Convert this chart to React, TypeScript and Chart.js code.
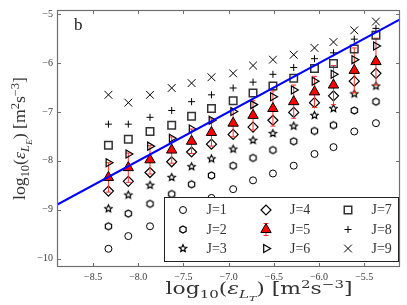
import React, { useEffect, useRef } from 'react';
import { Chart, registerables } from 'chart.js';

Chart.register(...registerables);

// ---------- data ----------
const xValues = [-8.33, -8.11, -7.87, -7.63, -7.41, -7.19, -6.95, -6.73, -6.51, -6.28, -6.05, -5.84, -5.61, -5.37];
const j1 = [-9.80, -9.54, -9.34, -9.10, -8.94, -8.76, -8.58, -8.40, -8.26, -8.10, -7.86, -7.72, -7.40, -7.23];
const j2 = [-9.34, -9.08, -8.88, -8.68, -8.48, -8.30, -8.10, -7.94, -7.78, -7.60, -7.39, -7.27, -6.97, -6.79];
const j3 = [-8.98, -8.70, -8.50, -8.34, -8.12, -7.96, -7.76, -7.58, -7.44, -7.29, -7.07, -6.93, -6.63, -6.47];
const j4 = [-8.62, -8.42, -8.24, -8.02, -7.82, -7.66, -7.46, -7.31, -7.17, -7.01, -6.81, -6.67, -6.37, -6.21];
const j5 = [-8.34, -8.14, -7.98, -7.78, -7.60, -7.42, -7.23, -7.07, -6.93, -6.79, -6.59, -6.45, -6.15, -5.97];
const j5Err = [0.30, 0.30, 0.29, 0.27, 0.25, 0.28, 0.28, 0.30, 0.36, 0.34, 0.32, 0.40, 0.46, 0.48];
const j6 = [-8.04, -7.86, -7.70, -7.54, -7.35, -7.17, -6.99, -6.85, -6.69, -6.55, -6.37, -6.23, -5.93, -5.65];
const j7 = [-7.68, -7.56, -7.40, -7.27, -7.09, -6.93, -6.77, -6.61, -6.47, -6.31, -6.11, -6.01, -5.71, -5.43];
const j8 = [-7.25, -7.25, -7.11, -6.97, -6.79, -6.65, -6.51, -6.39, -6.23, -6.09, -5.91, -5.79, -5.51, -5.29];
const j9 = [-6.65, -6.81, -6.65, -6.51, -6.41, -6.29, -6.21, -6.05, -5.93, -5.83, -5.69, -5.57, -5.33, -5.15];
const refLineX = [-8.9, -5.1]; // reference line y = x
const xTicks = [-8.5, -8.0, -7.5, -7.0, -6.5, -6.0, -5.5];
const yTicks = [-10, -9, -8, -7, -6, -5];
const legendLabels = ['J=1', 'J=2', 'J=3', 'J=4', 'J=5', 'J=6', 'J=7', 'J=8', 'J=9'];
const panelLabel = 'b';

const SERIF = '"Liberation Serif", "DejaVu Serif", serif';
const WIDE_SERIF = '"DejaVu Serif", "Liberation Serif", serif';

// ---------- marker shapes ----------
function hexPath(ctx: CanvasRenderingContext2D, x: number, y: number, r: number) {
  ctx.beginPath();
  for (let k = 0; k < 6; k++) {
    const a = -Math.PI / 2 + (k * Math.PI) / 3;
    const px = x + r * Math.cos(a);
    const py = y + r * Math.sin(a);
    if (k === 0) ctx.moveTo(px, py);
    else ctx.lineTo(px, py);
  }
  ctx.closePath();
}
function starPath(ctx: CanvasRenderingContext2D, x: number, y: number, ro: number, ri: number) {
  ctx.beginPath();
  for (let k = 0; k < 10; k++) {
    const a = -Math.PI / 2 + (k * Math.PI) / 5;
    const r = k % 2 === 0 ? ro : ri;
    const px = x + r * Math.cos(a);
    const py = y + r * Math.sin(a);
    if (k === 0) ctx.moveTo(px, py);
    else ctx.lineTo(px, py);
  }
  ctx.closePath();
}
function makeCanvas(size: number, draw: (c: CanvasRenderingContext2D, m: number) => void) {
  const cv = document.createElement('canvas');
  cv.width = size;
  cv.height = size;
  const c = cv.getContext('2d')!;
  draw(c, size / 2);
  return cv;
}

function drawLegendMarker(ctx: CanvasRenderingContext2D, idx: number, x: number, y: number) {
  ctx.save();
  ctx.strokeStyle = '#000';
  ctx.lineWidth = 1;
  switch (idx) {
    case 0:
      ctx.beginPath();
      ctx.arc(x, y, 3.5, 0, Math.PI * 2);
      ctx.stroke();
      break;
    case 1:
      hexPath(ctx, x, y, 3.6);
      ctx.lineWidth = 1.2;
      ctx.stroke();
      break;
    case 2:
      starPath(ctx, x, y, 3.8, 1.8);
      ctx.lineWidth = 1.2;
      ctx.stroke();
      break;
    case 3:
      ctx.beginPath();
      ctx.moveTo(x - 5, y);
      ctx.lineTo(x, y - 5);
      ctx.lineTo(x + 5, y);
      ctx.lineTo(x, y + 5);
      ctx.closePath();
      ctx.lineWidth = 1.2;
      ctx.stroke();
      break;
    case 4: {
      ctx.strokeStyle = '#ff3030';
      ctx.beginPath();
      ctx.moveTo(x, y - 6);
      ctx.lineTo(x, y + 6);
      ctx.moveTo(x - 2.5, y - 6);
      ctx.lineTo(x + 2.5, y - 6);
      ctx.moveTo(x - 2.5, y + 6);
      ctx.lineTo(x + 2.5, y + 6);
      ctx.stroke();
      const r = 6;
      ctx.beginPath();
      ctx.moveTo(x, y - r);
      ctx.lineTo(x + r * Math.sin((2 * Math.PI) / 3), y - r * Math.cos((2 * Math.PI) / 3));
      ctx.lineTo(x + r * Math.sin((4 * Math.PI) / 3), y - r * Math.cos((4 * Math.PI) / 3));
      ctx.closePath();
      ctx.fillStyle = '#ff0000';
      ctx.fill();
      ctx.strokeStyle = '#000';
      ctx.stroke();
      break;
    }
    case 5: {
      const r = 4.6;
      ctx.beginPath();
      ctx.moveTo(x + r, y);
      ctx.lineTo(x - r / 2, y - r * Math.sin(Math.PI / 3));
      ctx.lineTo(x - r / 2, y + r * Math.sin(Math.PI / 3));
      ctx.closePath();
      ctx.lineWidth = 1.2;
      ctx.stroke();
      break;
    }
    case 6:
      ctx.strokeStyle = '#333';
      ctx.lineWidth = 1.5;
      ctx.strokeRect(x - 3.75, y - 3.75, 7.5, 7.5);
      break;
    case 7:
      ctx.beginPath();
      ctx.moveTo(x - 3.5, y);
      ctx.lineTo(x + 3.5, y);
      ctx.moveTo(x, y - 3.5);
      ctx.lineTo(x, y + 3.5);
      ctx.stroke();
      break;
    case 8:
      ctx.beginPath();
      ctx.moveTo(x - 3.9, y - 3.9);
      ctx.lineTo(x + 3.9, y + 3.9);
      ctx.moveTo(x + 3.9, y - 3.9);
      ctx.lineTo(x - 3.9, y + 3.9);
      ctx.stroke();
      break;
  }
  ctx.restore();
}

type Part = { t: string; s: number; dy?: number; i?: boolean };
function titleParts(sub: string, big: number): Part[] {
  const sm = Math.round(big * 0.7);
  const xs = Math.round(big * 0.5);
  return [
    { t: 'log', s: big },
    { t: '10', s: sm, dy: 4 },
    { t: '(', s: big },
    { t: 'ε', s: big, i: true },
    { t: 'L', s: sm, dy: 4, i: true },
    { t: sub, s: xs, dy: 6.5, i: true },
    { t: ')', s: big },
    { t: ' [m', s: big },
    { t: '2', s: sm, dy: -6 },
    { t: 's', s: big },
    { t: '−3', s: sm, dy: -6 },
    { t: ']', s: big },
  ];
}
function drawRich(
  ctx: CanvasRenderingContext2D,
  parts: Part[],
  family: string,
  cx: number,
  baseline: number,
  targetWidth: number
) {
  const fontOf = (p: Part) => `${p.i ? 'italic ' : ''}${p.s}px ${family}`;
  let total = 0;
  const widths = parts.map((p) => {
    ctx.font = fontOf(p);
    const w = ctx.measureText(p.t).width;
    total += w;
    return w;
  });
  const sc = targetWidth / total;
  ctx.save();
  ctx.translate(cx, baseline);
  ctx.scale(sc, 1);
  ctx.textBaseline = 'alphabetic';
  ctx.textAlign = 'left';
  ctx.fillStyle = '#333';
  let x = -total / 2;
  parts.forEach((p, k) => {
    ctx.font = fontOf(p);
    ctx.fillText(p.t, x, p.dy || 0);
    x += widths[k];
  });
  ctx.restore();
}

const FRAME = '#6e6e6e';

const decorPlugin = {
  id: 'decor',
  beforeDatasetDraw(chart: any, args: any) {
    if (args.index !== 5) return;
    const { ctx, chartArea, scales } = chart;
    const xs = scales.x;
    const ys = scales.y;
    ctx.save();
    ctx.beginPath();
    ctx.rect(chartArea.left, chartArea.top, chartArea.right - chartArea.left, chartArea.bottom - chartArea.top);
    ctx.clip();
    ctx.strokeStyle = '#ff3030';
    ctx.lineWidth = 1;
    xValues.forEach((xv, i) => {
      const px = xs.getPixelForValue(xv);
      const top = ys.getPixelForValue(j5[i] + j5Err[i]);
      const bot = ys.getPixelForValue(j5[i] - j5Err[i]);
      ctx.beginPath();
      ctx.moveTo(px, top);
      ctx.lineTo(px, bot);
      ctx.moveTo(px - 2.5, top);
      ctx.lineTo(px + 2.5, top);
      ctx.moveTo(px - 2.5, bot);
      ctx.lineTo(px + 2.5, bot);
      ctx.stroke();
    });
    ctx.restore();
  },
  afterDraw(chart: any) {
    const { ctx, chartArea, scales } = chart;
    const { left, right, top, bottom } = chartArea;
    const xs = scales.x;
    const ys = scales.y;
    ctx.save();
    // ticks (inward, all four sides)
    ctx.strokeStyle = FRAME;
    ctx.lineWidth = 1;
    ctx.beginPath();
    xTicks.forEach((v) => {
      const px = Math.round(xs.getPixelForValue(v)) + 0.5;
      ctx.moveTo(px, bottom);
      ctx.lineTo(px, bottom - 4);
      ctx.moveTo(px, top);
      ctx.lineTo(px, top + 4);
    });
    yTicks.forEach((v) => {
      const py = Math.round(ys.getPixelForValue(v)) + 0.5;
      ctx.moveTo(left, py);
      ctx.lineTo(left + 4, py);
      ctx.moveTo(right, py);
      ctx.lineTo(right - 4, py);
    });
    ctx.stroke();
    // frame
    ctx.lineWidth = 1.2;
    ctx.strokeRect(left + 0.5, top + 0.5, right - left - 1, bottom - top - 1);

    // axis titles
    drawRich(ctx, titleParts('T', 16), WIDE_SERIF, 259, 294, 187);
    ctx.save();
    ctx.translate(25, 138.5);
    ctx.rotate(-Math.PI / 2);
    drawRich(ctx, titleParts('E', 17), SERIF, 0, 0, 123);
    ctx.restore();

    // panel label
    ctx.fillStyle = '#1a1a1a';
    ctx.font = `17px ${SERIF}`;
    ctx.textAlign = 'left';
    ctx.textBaseline = 'alphabetic';
    ctx.fillText(panelLabel, 74, 30);

    // legend
    const lx0 = 164.5, ly0 = 197.5, lx1 = 398.5, ly1 = 261.5;
    ctx.fillStyle = '#ffffff';
    ctx.fillRect(lx0, ly0, lx1 - lx0, ly1 - ly0);
    ctx.strokeStyle = '#222';
    ctx.lineWidth = 1;
    ctx.strokeRect(lx0, ly0, lx1 - lx0, ly1 - ly0);
    const colMarker = [183, 266, 348];
    const colText = [206.5, 290, 371.5];
    const rowY = [210, 229.5, 248.5];
    ctx.font = `14px ${SERIF}`;
    ctx.textBaseline = 'middle';
    ctx.textAlign = 'left';
    legendLabels.forEach((lab, k) => {
      const c = Math.floor(k / 3);
      const r = k % 3;
      drawLegendMarker(ctx, k, colMarker[c], rowY[r]);
      ctx.fillStyle = '#333';
      ctx.fillText(lab, colText[c], rowY[r] + 0.5);
    });
    ctx.restore();
  },
};

function fmt(v: number, d: number) {
  return (v < 0 ? '−' : '') + Math.abs(v).toFixed(d);
}

export default function App() {
  const ref = useRef<HTMLCanvasElement | null>(null);
  useEffect(() => {
    const canvas = ref.current;
    if (!canvas) return;
    const hexImg = makeCanvas(11, (c, m) => {
      c.strokeStyle = '#000';
      c.lineWidth = 1.2;
      hexPath(c, m, m, 3.6);
      c.stroke();
    });
    const starImg = makeCanvas(13, (c, m) => {
      c.strokeStyle = '#000';
      c.lineWidth = 1.2;
      starPath(c, m, m, 3.8, 1.8);
      c.stroke();
    });
    const pts = (ys: number[]) => xValues.map((x, i) => ({ x, y: ys[i] }));
    const base = { showLine: false, backgroundColor: 'rgba(0,0,0,0)', borderColor: '#000', borderWidth: 1 };
    const chart = new Chart(canvas, {
      type: 'scatter',
      data: {
        datasets: [
          {
            label: 'y=x',
            data: refLineX.map((v) => ({ x: v, y: v })),
            showLine: true,
            borderColor: '#0000ff',
            borderWidth: 2,
            pointRadius: 0,
            order: 0,
          } as any,
          { ...base, label: legendLabels[0], data: pts(j1), pointStyle: 'circle', pointRadius: 3.5, order: 9 },
          { ...base, label: legendLabels[1], data: pts(j2), pointStyle: hexImg, pointRadius: 4, order: 8 },
          { ...base, label: legendLabels[2], data: pts(j3), pointStyle: starImg, pointRadius: 4, order: 7 },
          { ...base, label: legendLabels[3], data: pts(j4), pointStyle: 'rectRot', pointRadius: 5, borderWidth: 1.2, order: 6 },
          {
            ...base,
            label: legendLabels[4],
            data: pts(j5),
            pointStyle: 'triangle',
            pointRadius: 6,
            backgroundColor: '#ff0000',
            order: 5,
          },
          { ...base, label: legendLabels[5], data: pts(j6), pointStyle: 'triangle', rotation: 90, pointRadius: 4.6, borderWidth: 1.2, order: 4 },
          { ...base, label: legendLabels[6], data: pts(j7), pointStyle: 'rect', pointRadius: 5.3, borderColor: '#333', borderWidth: 1.5, order: 3 },
          { ...base, label: legendLabels[7], data: pts(j8), pointStyle: 'cross', pointRadius: 3.5, order: 2 },
          { ...base, label: legendLabels[8], data: pts(j9), pointStyle: 'crossRot', pointRadius: 5.5, order: 1 },
        ] as any,
      },
      options: {
        responsive: false,
        animation: false,
        events: [],
        layout: { padding: { left: 0, top: 3, right: 5, bottom: 0 } },
        plugins: { legend: { display: false }, tooltip: { enabled: false }, title: { display: false } },
        scales: {
          x: {
            type: 'linear',
            min: -8.899,
            max: -5.104,
            grid: { display: false, drawTicks: false },
            border: { display: false },
            ticks: {
              autoSkip: false,
              maxRotation: 0,
              padding: 4,
              color: '#3a3a3a',
              font: { family: SERIF, size: 10 },
              callback: (v: any) => fmt(Number(v), 1),
            },
            afterBuildTicks: (s: any) => {
              s.ticks = xTicks.map((v) => ({ value: v }));
            },
            afterFit: (s: any) => {
              s.height = 38;
            },
          },
          y: {
            type: 'linear',
            min: -10.173,
            max: -4.914,
            grid: { display: false, drawTicks: false },
            border: { display: false },
            ticks: {
              autoSkip: false,
              padding: 4,
              color: '#3a3a3a',
              font: { family: SERIF, size: 10 },
              callback: (v: any) => fmt(Number(v), 0),
            },
            afterBuildTicks: (s: any) => {
              s.ticks = yTicks.map((v) => ({ value: v }));
            },
            afterFit: (s: any) => {
              s.width = 57;
            },
          },
        },
      } as any,
      plugins: [decorPlugin],
    });
    return () => chart.destroy();
  }, []);
  return (
    <div style={{ position: 'fixed', left: 0, top: 0, width: 407, height: 305, background: '#fff' }}>
      <canvas ref={ref} width={407} height={305} style={{ display: 'block', width: '407px', height: '305px' }} />
    </div>
  );
}
